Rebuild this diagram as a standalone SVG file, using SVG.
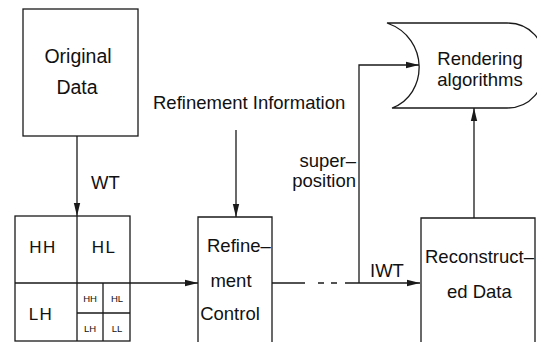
<svg xmlns="http://www.w3.org/2000/svg" width="537" height="342" viewBox="0 0 537 342">
<style>
.bx{fill:none;stroke:#1a1a1a;stroke-width:1.3}
.ln{fill:none;stroke:#1a1a1a;stroke-width:1.3}
text{font-family:"Liberation Sans",Arial,sans-serif;font-size:18.5px;fill:#111}
.big{font-size:17px;letter-spacing:1.5px}
.sm{font-size:9.5px}
</style>
<defs>
<marker id="ah" markerUnits="userSpaceOnUse" markerWidth="14" markerHeight="8" refX="13" refY="4" orient="auto">
<path d="M0,0.8 L13,4 L0,7.2 Z" fill="#1a1a1a"/>
</marker>
</defs>
<rect width="537" height="342" fill="#fff"/>
<g id="original">
<rect class="bx" x="23" y="9" width="115" height="127"/>
<text x="78" y="63" text-anchor="middle" style="font-size:19.5px">Original</text>
<text x="77" y="94" text-anchor="middle" style="font-size:19.5px">Data</text>
</g>
<g id="refinement-info">
<text x="153" y="109">Refinement Information</text>
</g>
<g id="grid">
<rect class="bx" x="15" y="216" width="115" height="125"/>
<path class="ln" d="M77,216 V341 M15,283 H130 M103,283 V341 M77,313 H130"/>
<text class="big" x="43" y="253" text-anchor="middle">HH</text>
<text class="big" x="104" y="253" text-anchor="middle">HL</text>
<text class="big" x="41" y="320" text-anchor="middle">LH</text>
<text class="sm" x="90" y="302" text-anchor="middle">HH</text>
<text class="sm" x="117" y="302" text-anchor="middle">HL</text>
<text class="sm" x="90" y="332" text-anchor="middle">LH</text>
<text class="sm" x="117" y="332" text-anchor="middle">LL</text>
</g>
<g id="refine-control">
<path class="bx" d="M198,345 V217 H272 V345"/>
<text x="207" y="252">Refine–</text>
<text x="231" y="287" text-anchor="middle">ment</text>
<text x="230" y="320" text-anchor="middle">Control</text>
</g>
<g id="reconstructed">
<path class="bx" d="M421,345 V218 H535 V345"/>
<text x="425" y="263">Reconstruct–</text>
<text x="447" y="298">ed Data</text>
</g>
<g id="rendering">
<path class="bx" d="M387,23 H507 C530,23 545,40 545,65 C545,90 530,108 507,108 H392 C428,95 430,38 387,23 Z"/>
<text x="480" y="65" text-anchor="middle">Rendering</text>
<text x="480" y="86" text-anchor="middle">algorithms</text>
</g>
<g id="connectors">
<path class="ln" d="M77,136 V216" marker-end="url(#ah)"/>
<path class="ln" d="M236,130 V217" marker-end="url(#ah)"/>
<path class="ln" d="M130,283 H198" marker-end="url(#ah)"/>
<path class="ln" d="M272,283 H420" stroke-dasharray="33 13 6 7 6 8 200" marker-end="url(#ah)"/>
<path class="ln" d="M359,283 V65 H419" marker-end="url(#ah)"/>
<path class="ln" d="M474,218 V108" marker-end="url(#ah)"/>
<text x="91" y="189">WT</text>
<text x="370" y="277">IWT</text>
<text x="356" y="167" text-anchor="end">super–</text>
<text x="356" y="187" text-anchor="end">position</text>
</g>
</svg>
